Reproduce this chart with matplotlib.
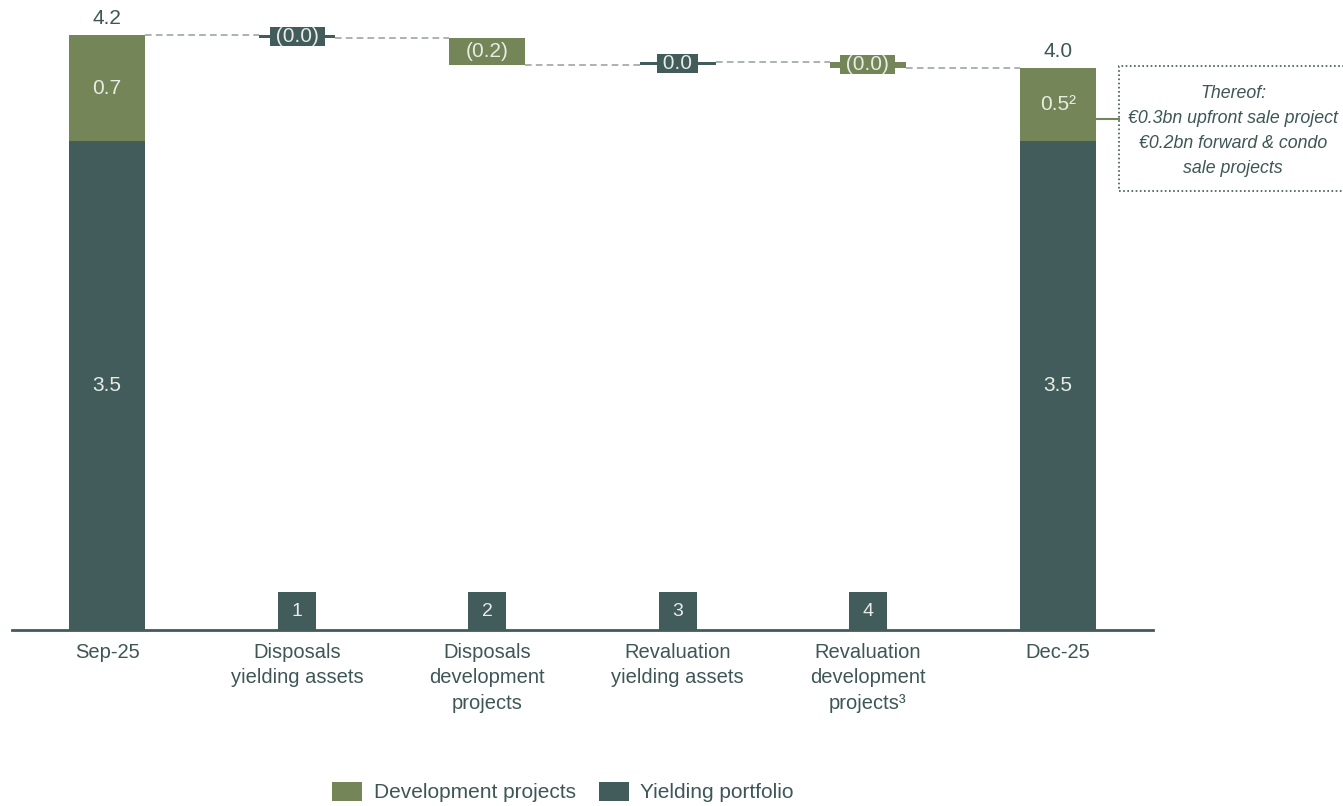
import matplotlib
matplotlib.use("Agg")
import matplotlib.pyplot as plt
from matplotlib.patches import Rectangle, Patch
from matplotlib.lines import Line2D

plt.rcParams['font.family'] = ['Liberation Sans', 'DejaVu Sans']

# ---------------- data ----------------
categories = ["Sep-25", "Disposals\nyielding assets", "Disposals\ndevelopment\nprojects",
              "Revaluation\nyielding assets", "Revaluation\ndevelopment\nprojects³", "Dec-25"]
start_yielding = 3.45
start_development = 0.75
changes = [-0.02, -0.19, 0.02, -0.04]
change_labels = ["(0.0)", "(0.2)", "0.0", "(0.0)"]
change_series = ["yield", "dev", "yield", "dev"]
end_yielding = 3.45
end_development = 0.52
start_labels = ["3.5", "0.7", "4.2"]
end_labels = ["3.5", "0.5²", "4.0"]
step_numbers = ["1", "2", "3", "4"]
note_text = "Thereof:\n€0.3bn upfront sale project\n€0.2bn forward & condo\nsale projects"
legend_labels = ["Development projects", "Yielding portfolio"]

# ---------------- style ----------------
GREEN = "#748557"
DARK = "#425B5B"
TEXT = "#3E5656"
LIGHT = "#E8ECE6"
GRID = "#9DA6A6"
W, H = 1343, 806
BAR_W = 0.4
VAL_FS = 15

fig = plt.figure(figsize=(W / 100, H / 100), dpi=100)
ax = fig.add_axes([12 / W, 176 / H, 1141 / W, 630 / H])
ax.set_xlim(-0.5, 5.5)
ax.set_ylim(0, 4.447)

colors = {"yield": DARK, "dev": GREEN}

# start bar
ax.bar(0, start_yielding, BAR_W, color=DARK)
ax.bar(0, start_development, BAR_W, bottom=start_yielding, color=GREEN)
ax.text(0, start_yielding / 2, start_labels[0], ha="center", va="center", color=LIGHT, fontsize=VAL_FS)
ax.text(0, start_yielding + start_development / 2, start_labels[1], ha="center", va="center",
        color=LIGHT, fontsize=VAL_FS)
start_total = start_yielding + start_development
ax.annotate(start_labels[2], (0, start_total), xytext=(0, 5), textcoords="offset points",
            ha="center", va="bottom", color=TEXT, fontsize=VAL_FS)

# end bar
end_total = end_yielding + end_development
ax.bar(5, end_yielding, BAR_W, color=DARK)
ax.bar(5, end_development, BAR_W, bottom=end_yielding, color=GREEN)
ax.text(5, end_yielding / 2, end_labels[0], ha="center", va="center", color=LIGHT, fontsize=VAL_FS)
ax.text(5, end_yielding + end_development / 2, end_labels[1], ha="center", va="center",
        color=LIGHT, fontsize=VAL_FS)
ax.annotate(end_labels[2], (5, end_total), xytext=(0, 5), textcoords="offset points",
            ha="center", va="bottom", color=TEXT, fontsize=VAL_FS)

# waterfall steps
running = start_total
levels = [start_total]
for i, (d, lab, ser) in enumerate(zip(changes, change_labels, change_series), start=1):
    new = running + d
    bottom = min(running, new)
    c = colors[ser]
    ax.bar(i, abs(d), BAR_W, bottom=bottom, color=c)
    mid = bottom + abs(d) / 2
    if abs(d) > 0.1:
        ax.text(i, mid, lab, ha="center", va="center", color=LIGHT, fontsize=VAL_FS)
    else:
        ax.text(i, mid, " " + lab + " ", ha="center", va="center", color=LIGHT, fontsize=VAL_FS,
                bbox=dict(boxstyle="square,pad=0.0", facecolor=c, edgecolor="none"))
    running = new
    levels.append(running)

# connectors
for i in range(5):
    ax.plot([i + BAR_W / 2, i + 1 - BAR_W / 2], [levels[i], levels[i]],
            color=GRID, lw=1.2, linestyle=(0, (4, 2.5)), zorder=0)

# step number boxes
box_w, box_h = 38 / 190.2, 38 / 141.67
for i, n in enumerate(step_numbers, start=1):
    ax.add_patch(Rectangle((i - box_w / 2, 0), box_w, box_h, facecolor=DARK, edgecolor="none"))
    ax.text(i, box_h / 2, n, ha="center", va="center", color=LIGHT, fontsize=14)

# axes styling
for s in ["top", "right", "left"]:
    ax.spines[s].set_visible(False)
ax.spines["bottom"].set_color(DARK)
ax.spines["bottom"].set_linewidth(2)
ax.set_yticks([])
ax.set_xticks(range(len(categories)))
ax.set_xticklabels(categories, fontsize=14.5, color=TEXT, linespacing=1.45)
ax.tick_params(axis="x", length=0, pad=9)

# note box
x0, x1, y0, y1 = 1119, 1380, 66, 191
fig.add_artist(Rectangle((x0 / W, 1 - y1 / H), (x1 - x0) / W, (y1 - y0) / H,
                         transform=fig.transFigure, fill=False, edgecolor=TEXT,
                         linestyle=(0, (1, 1.5)), lw=1.2))
fig.add_artist(Line2D([1097 / W, 1119 / W], [1 - 119 / H, 1 - 119 / H],
                      transform=fig.transFigure, color=GREEN, lw=1.5))
fig.text(1233 / W, 1 - 131 / H, note_text, ha="center", va="center", style="italic",
         color=TEXT, fontsize=12.8, linespacing=1.62)

# legend
handles = [Patch(facecolor=GREEN, edgecolor="none"), Patch(facecolor=DARK, edgecolor="none")]
fig.legend(handles, legend_labels, loc="center", bbox_to_anchor=(563 / W, 14 / H), ncol=2,
           frameon=False, fontsize=15, labelcolor=TEXT, handlelength=1.45, handleheight=1.05,
           handletextpad=0.55, columnspacing=1.1)

fig.savefig("out.png", dpi=100)
